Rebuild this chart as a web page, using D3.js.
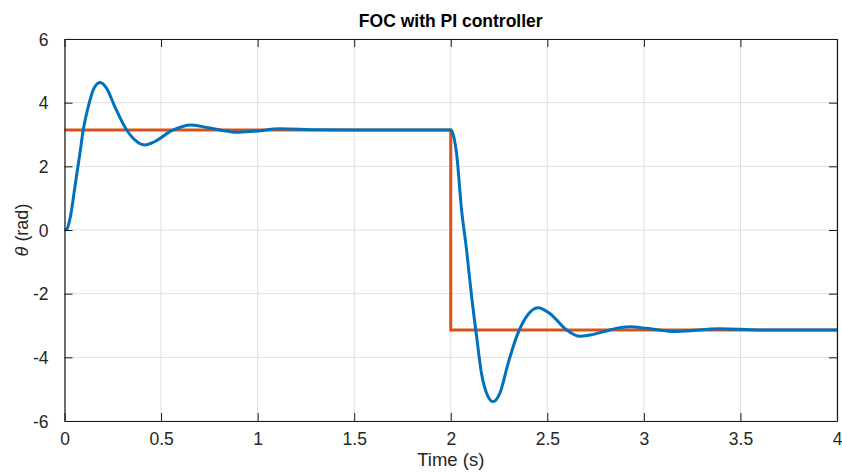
<!DOCTYPE html>
<html>
<head>
<meta charset="utf-8">
<script src="https://cdn.jsdelivr.net/npm/d3@7"></script>
<style>
  body { margin: 0; background: #fff; }
  svg { display: block; font-family: "Liberation Sans", Arial, Helvetica, sans-serif; }
</style>
</head>
<body>
<svg id="chart" width="842" height="472"></svg>
<script>
const W = 842,
  H = 472;
const margin = { top: 39, right: 5, bottom: 51, left: 64.5 };

// measured angle (blue)
const timeS = [0, 0.012, 0.03, 0.054, 0.08, 0.097, 0.123, 0.149, 0.184, 0.218, 0.261, 0.322, 0.374, 0.417, 0.468, 0.555, 0.658, 0.744, 0.848, 0.89, 0.98, 1.115, 1.3, 1.5, 1.8, 2.0, 2.006, 2.03, 2.056, 2.082, 2.108, 2.134, 2.159, 2.194, 2.219, 2.254, 2.297, 2.341, 2.392, 2.452, 2.513, 2.6, 2.668, 2.72, 2.789, 2.823, 2.875, 2.93, 3.013, 3.169, 3.393, 3.6, 4.0];
const theta = [0, 0.03, 0.4, 1.36, 2.42, 3.14, 3.87, 4.40, 4.63, 4.45, 3.87, 3.14, 2.78, 2.67, 2.78, 3.12, 3.30, 3.21, 3.10, 3.07, 3.10, 3.18, 3.15, 3.14, 3.14, 3.14, 3.10, 2.41, 0.63, -0.63, -2.09, -3.35, -4.50, -5.24, -5.39, -5.13, -4.19, -3.35, -2.72, -2.44, -2.62, -3.14, -3.34, -3.30, -3.20, -3.14, -3.07, -3.04, -3.09, -3.19, -3.10, -3.14, -3.14];

// reference angle (orange)
const refTime = [0, 2, 2, 4];
const refTheta = [Math.PI, Math.PI, -Math.PI, -Math.PI];

const xTicks = [0, 0.5, 1, 1.5, 2, 2.5, 3, 3.5, 4];
const yTicks = [-6, -4, -2, 0, 2, 4, 6];

const svg = d3.select("#chart");
const x = d3.scaleLinear().domain([0, 4]).range([margin.left, W - margin.right]);
const y = d3.scaleLinear().domain([-6, 6]).range([H - margin.bottom, margin.top]);

const axisColor = "#262626";

// grid
const grid = svg.append("g");
grid.selectAll(".gx")
  .data(xTicks)
  .join("line")
  .attr("x1", (d) => x(d)).attr("x2", (d) => x(d))
  .attr("y1", y(-6)).attr("y2", y(6))
  .attr("stroke", "#dfdfdf").attr("stroke-width", 1);
grid.selectAll(".gy")
  .data(yTicks)
  .join("line")
  .attr("x1", x(0)).attr("x2", x(4))
  .attr("y1", (d) => y(d)).attr("y2", (d) => y(d))
  .attr("stroke", "#dfdfdf").attr("stroke-width", 1);

// lines
const lineGen = d3.line()
  .x((d) => x(d[0]))
  .y((d) => y(d[1]));

svg.append("path")
  .datum(refTime.map((t, i) => [t, refTheta[i]]))
  .attr("d", lineGen)
  .attr("fill", "none")
  .attr("stroke", "#D95319")
  .attr("stroke-width", 3);

svg.append("path")
  .datum(timeS.map((t, i) => [t, theta[i]]))
  .attr("d", lineGen.curve(d3.curveMonotoneX))
  .attr("fill", "none")
  .attr("stroke", "#0072BD")
  .attr("stroke-width", 3);

// axes (ticks inside, mirrored)
const tickLen = 8;
const fmt = (d) => String(d);

const xBottom = svg.append("g")
  .attr("transform", `translate(0,${y(-6)})`)
  .call(d3.axisBottom(x).tickValues(xTicks).tickFormat(fmt).tickSizeInner(-tickLen).tickSizeOuter(0).tickPadding(12));
const xTop = svg.append("g")
  .attr("transform", `translate(0,${y(6)})`)
  .call(d3.axisTop(x).tickValues(xTicks).tickFormat("").tickSizeInner(-tickLen).tickSizeOuter(0));
const yLeft = svg.append("g")
  .attr("transform", `translate(${x(0)},0)`)
  .call(d3.axisLeft(y).tickValues(yTicks).tickFormat(fmt).tickSizeInner(-tickLen).tickSizeOuter(0).tickPadding(16));
const yRight = svg.append("g")
  .attr("transform", `translate(${x(4)},0)`)
  .call(d3.axisRight(y).tickValues(yTicks).tickFormat("").tickSizeInner(-tickLen).tickSizeOuter(0));

[xBottom, xTop, yLeft, yRight].forEach((g) => {
  g.selectAll(".domain").attr("stroke", "#1a1a1a").attr("stroke-width", 1.2);
  g.selectAll(".tick line").attr("stroke", "#1a1a1a").attr("stroke-width", 1);
  g.selectAll(".tick text")
    .attr("fill", axisColor)
    .style("font-size", "17.5px")
    .style("font-family", '"Liberation Sans", Arial, Helvetica, sans-serif');
});
yLeft.selectAll(".tick text").attr("dy", "0.36em");

// title and labels
svg.append("text")
  .attr("x", (x(0) + x(4)) / 2)
  .attr("y", 27)
  .attr("text-anchor", "middle")
  .attr("font-weight", "bold")
  .attr("font-size", 17.5)
  .attr("fill", "#000")
  .text("FOC with PI controller");

svg.append("text")
  .attr("x", (x(0) + x(4)) / 2)
  .attr("y", 466)
  .attr("text-anchor", "middle")
  .attr("font-size", 18.5)
  .attr("fill", axisColor)
  .text("Time (s)");

const yl = svg.append("text")
  .attr("transform", `translate(28,${(y(-6) + y(6)) / 2}) rotate(-90)`)
  .attr("text-anchor", "middle")
  .attr("font-size", 18)
  .attr("fill", axisColor);
yl.append("tspan").attr("font-style", "italic").text("θ");
yl.append("tspan").text(" (rad)");
</script>
</body>
</html>
